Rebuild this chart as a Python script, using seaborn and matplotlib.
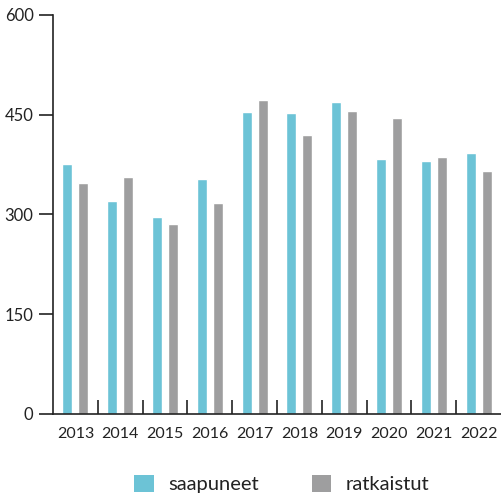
import matplotlib
matplotlib.use("Agg")
import matplotlib.pyplot as plt
import seaborn as sns
import pandas as pd
import numpy as np
from matplotlib.ticker import FixedLocator
from matplotlib.patches import Patch

years = ["2013", "2014", "2015", "2016", "2017", "2018", "2019", "2020", "2021", "2022"]
saapuneet = [376, 320, 296, 354, 454, 452, 469, 383, 381, 393]
ratkaistut = [347, 356, 285, 317, 472, 419, 455, 445, 386, 365]
series_names = ["saapuneet", "ratkaistut"]
colors = ["#6CC3D6", "#9E9E9F"]
yticks = [0, 150, 300, 450, 600]

df = pd.DataFrame({
    "year": years * 2,
    "value": saapuneet + ratkaistut,
    "series": [series_names[0]] * len(years) + [series_names[1]] * len(years),
})

sns.set_theme(style="white")
plt.rcParams["font.family"] = ["Lato", "DejaVu Sans"]

W, H = 501, 493
fig = plt.figure(figsize=(W / 100, H / 100), dpi=100)
ax = fig.add_axes([53 / W, (H - 414) / H, (W - 53) / W, 399 / H])

sns.barplot(data=df, x="year", y="value", hue="series", order=years,
            hue_order=series_names, palette=colors, width=0.711, gap=0.375,
            saturation=1, legend=False, ax=ax)

ax.set_xlim(-0.5, len(years) - 0.5)
ax.set_ylim(0, 600)
ax.set_yticks(yticks)
ax.set_xlabel("")
ax.set_ylabel("")
for s in ["top", "right"]:
    ax.spines[s].set_visible(False)
for s in ["left", "bottom"]:
    ax.spines[s].set_color("#222222")
    ax.spines[s].set_linewidth(1.2)

ax.tick_params(axis="y", direction="out", length=10, width=1.2, color="#222222",
               labelsize=12, labelcolor="#222222", pad=4, left=True)
ax.tick_params(axis="x", which="major", length=0, labelsize=11.5,
               labelcolor="#222222", pad=9)
ax.xaxis.set_minor_locator(FixedLocator(np.arange(0.5, len(years) - 0.5, 1.0)))
ax.tick_params(axis="x", which="minor", direction="in", length=10, width=1.2,
               color="#222222", bottom=True)

handles = [Patch(facecolor=c, edgecolor="none", label=n) for c, n in zip(colors, series_names)]
fig.legend(handles=handles, loc="center", bbox_to_anchor=(282 / W, 1 - 484 / H),
           ncol=2, frameon=False, fontsize=14.5, handlelength=0.95, handleheight=0.95,
           handletextpad=0.75, columnspacing=2.6, labelcolor="#222222")

fig.savefig("out.png", dpi=100)
